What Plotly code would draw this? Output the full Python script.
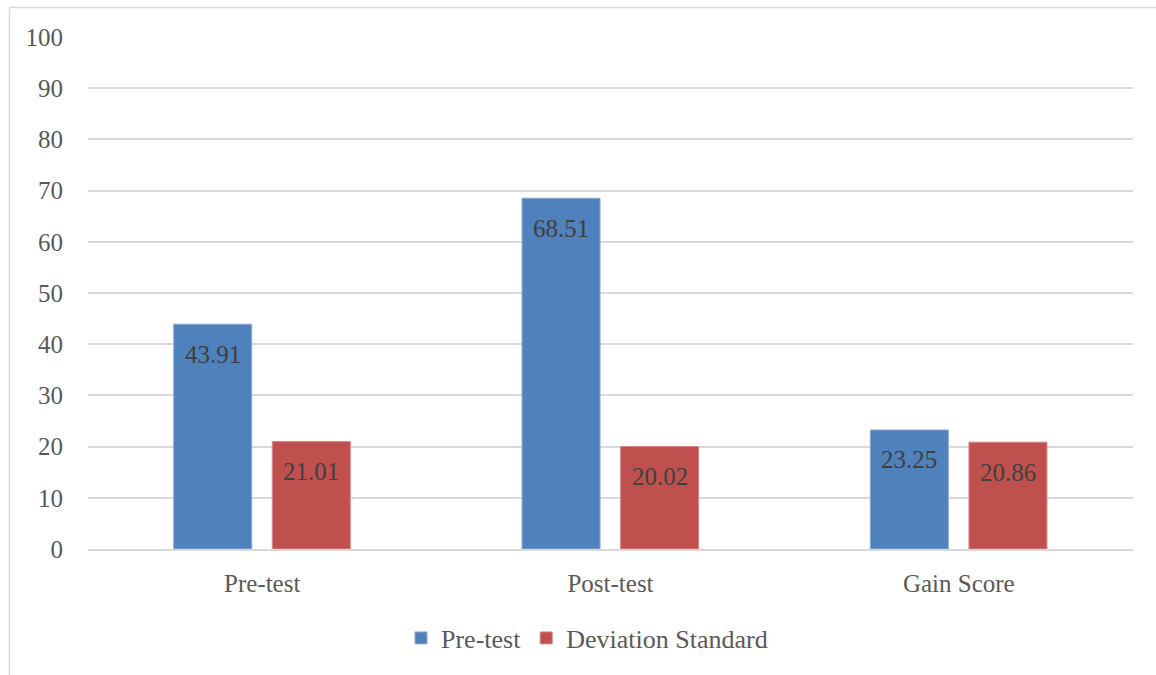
import plotly.graph_objects as go

# Category labels and series values
categories = ["Pre-test", "Post-test", "Gain Score"]
pretest_values = [43.91, 68.51, 23.25]
stdev_values = [21.01, 20.02, 20.86]
series_names = ["Pre-test", "Deviation Standard"]
y_ticks = [0, 10, 20, 30, 40, 50, 60, 70, 80, 90, 100]

FONT = "Liberation Serif"
BLUE = "#4F81BD"
RED = "#C0504D"
LABEL_COLOR = "#404040"
AXIS_COLOR = "#595959"

BAR_W = 0.224
BLUE_OFF = -0.254
RED_OFF = 0.029

fig = go.Figure()
fig.add_trace(go.Bar(
    x=categories, y=pretest_values, name=series_names[0],
    marker=dict(color=BLUE, line=dict(color="#8DAAD3", width=1)),
    width=BAR_W, offset=BLUE_OFF,
))
fig.add_trace(go.Bar(
    x=categories, y=stdev_values, name=series_names[1],
    marker=dict(color=RED, line=dict(color="#D68986", width=1)),
    width=BAR_W, offset=RED_OFF,
))

# value labels just inside the top of each bar
for i, (a, b) in enumerate(zip(pretest_values, stdev_values)):
    for off, v in ((BLUE_OFF, a), (RED_OFF, b)):
        fig.add_annotation(
            x=i + off + BAR_W / 2, y=v, xref="x", yref="y",
            text=f"{v:.2f}", showarrow=False, yanchor="middle", yshift=-30,
            font=dict(family=FONT, size=25, color=LABEL_COLOR),
        )

# outer chart frame (top and left edges; the rest runs off the page)
L, R, T, B = 88, 23, 37, 126
W, H = 1156, 675
pw, ph = W - L - R, H - T - B
frame = dict(color="#D9D9D9", width=1.5)
fig.add_shape(
    type="line", xref="paper", yref="paper",
    x0=(9.5 - L) / pw, x1=(W - L) / pw,
    y0=(H - B - 7.5) / ph, y1=(H - B - 7.5) / ph,
    line=frame, layer="below",
)
fig.add_shape(
    type="line", xref="paper", yref="paper",
    x0=(9.5 - L) / pw, x1=(9.5 - L) / pw,
    y0=(H - B - 7.5) / ph, y1=(H - B - H) / ph,
    line=frame, layer="below",
)

fig.update_layout(
    width=W, height=H,
    margin=dict(l=L, r=R, t=T, b=B),
    paper_bgcolor="white", plot_bgcolor="white",
    barmode="group",
    showlegend=True,
    legend=dict(
        orientation="h", x=(587 - L) / pw, xanchor="center",
        y=(H - B - 638) / ph, yanchor="middle",
        font=dict(family=FONT, size=26, color=AXIS_COLOR),
        itemwidth=30, traceorder="normal",
    ),
    font=dict(family=FONT, size=25, color=AXIS_COLOR),
)
fig.update_xaxes(
    showgrid=False, showline=True, linecolor="#D9D9D9", linewidth=1.5,
    ticks="", ticklabelstandoff=11,
    tickfont=dict(family=FONT, size=25, color=AXIS_COLOR),
    range=[-0.5, 2.5],
)
fig.update_yaxes(
    range=[0, 100], tickvals=y_ticks, showgrid=True, gridcolor="#D9D9D9", gridwidth=1.5,
    zeroline=False, showline=False, ticks="", ticklabelstandoff=24,
    tickfont=dict(family=FONT, size=25, color=AXIS_COLOR),
)

fig.write_html("out.html")
